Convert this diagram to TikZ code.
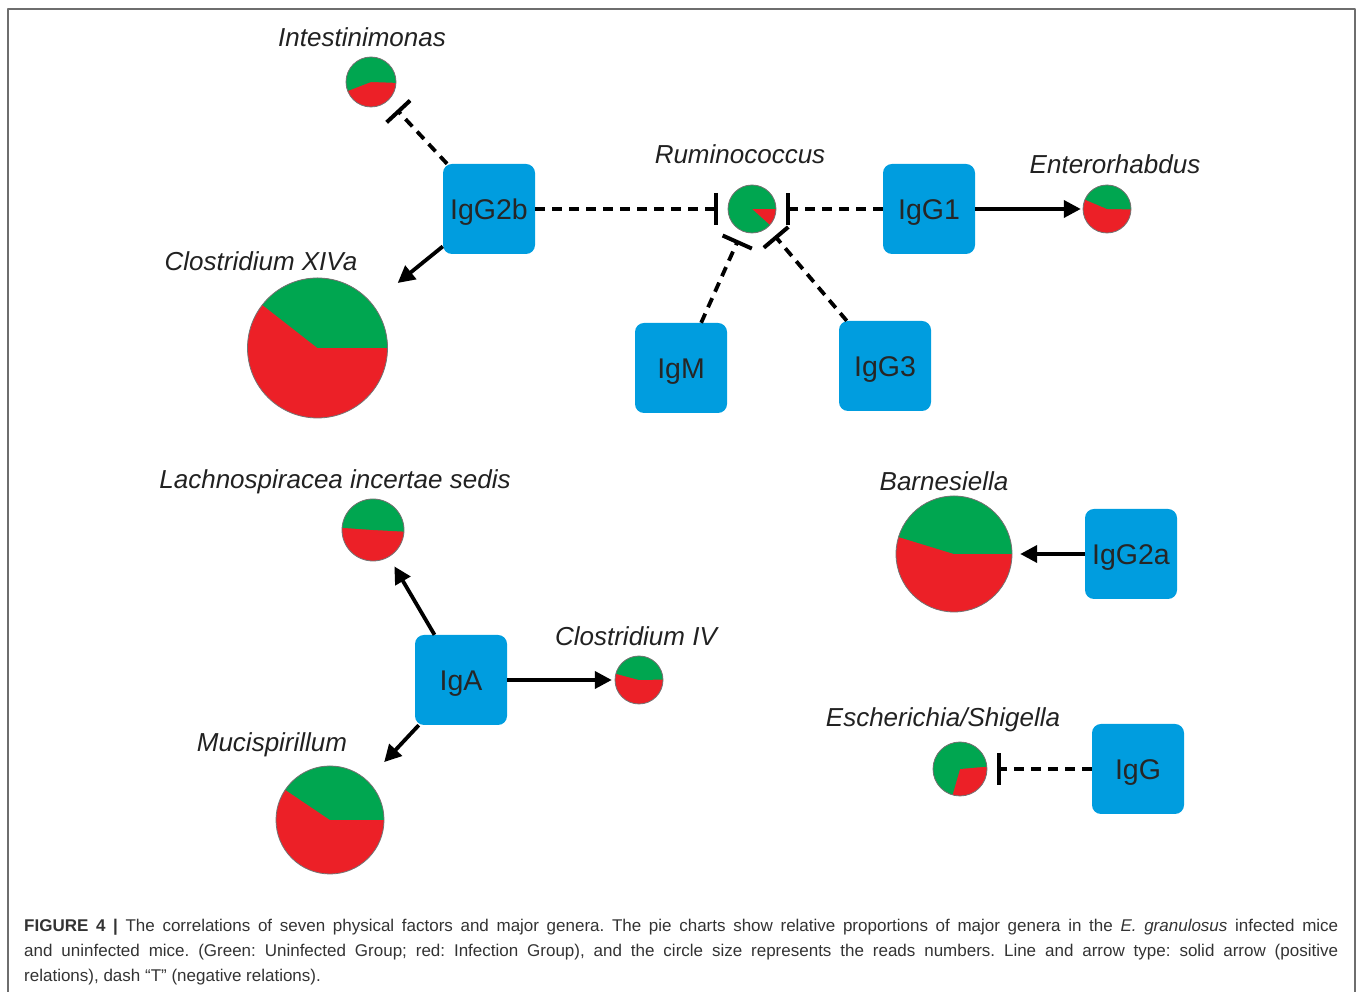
\documentclass[tikz,border=0pt]{standalone}
\usepackage{fontspec}
\setmainfont{Liberation Sans}
\usetikzlibrary{arrows.meta}

\definecolor{igblue}{RGB}{0,157,223}
\definecolor{piegreen}{RGB}{0,166,80}
\definecolor{piered}{RGB}{236,32,39}
\definecolor{framegray}{RGB}{110,110,110}
\definecolor{captext}{RGB}{51,51,51}

\begin{document}
\begin{tikzpicture}[line join=round,x=1pt,y=1pt,
		igbox/.style={fill=igblue,rounded corners=9pt,minimum width=92pt,minimum height=90pt,inner sep=0pt,text height=20.5pt,text depth=0pt,text=black!85,font=\fontsize{28.5}{30}\selectfont},
		genus/.style={text=black!87,font=\fontsize{26}{28}\selectfont\itshape},
		posarr/.style={line width=3.8pt,-{Triangle[length=17pt,width=17pt]}},
		negarr/.style={line width=3.8pt,dash pattern=on 10pt off 7pt,-{Bar[width=32pt,line width=4pt]}}]
	\tikzset{pics/pie/.style n args={3}{code={
				\fill[piered](0,0)circle(#1);
				\fill[piegreen](0,0)--(#2:#1)arc(#2:#3:#1)--cycle;
				\draw[black!55,line width=0.8pt](0,0)circle(#1);
		}}}
	\useasboundingbox(0,0)rectangle(1358,992);
	\draw[framegray,line width=1.5pt](8,-2)--(8,983)--(1355,983)--(1355,-2);
	% antibodies
	\node[igbox](IgGtwob) at (489,783){IgG2b};
	\node[igbox](IgGone) at (929,783){IgG1};
	\node[igbox](IgM) at (681,624){IgM};
	\node[igbox](IgGthree) at (885,626){IgG3};
	\node[igbox](IgGtwoa) at (1131,438){IgG2a};
	\node[igbox](IgA) at (461,312){IgA};
	\node[igbox](IgG) at (1138,223){IgG};
	% genera: name/x/y/radius/green from/green to
	\foreach \n/\x/\y/\r/\a/\b in {intes/371/910/25/-2/201,rumi/752/783/24/0/318,entero/1107/783/24/-1/157,
		xiva/317.5/644/70/0/142,lachno/373/462/31/-3/176,barne/954/438/58/0/163,
		cfour/639/312/24/1/165,muci/330/172/54/0/146,esch/960/223/27/5/254}{
		\node[circle,inner sep=0pt,minimum size=2*\r*1pt](\n) at (\x,\y){};
		\pic at (\n){pie={\r}{\a}{\b}};
	}
	\node[genus](intesl) at (362,955){Intestinimonas};
	\node[genus](rumil) at (740,838){Ruminococcus};
	\node[genus](enterol) at (1115,828){Enterorhabdus};
	\node[genus](xival) at (261,731){Clostridium XIVa};
	\node[genus](lachnol) at (335,510){Lachnospiracea incertae sedis};
	\node[genus](barnel) at (944,511){Barnesiella};
	\node[genus](cfourl) at (636,356){Clostridium IV};
	\node[genus](mucil) at (272,247){Mucispirillum};
	\node[genus](eschl) at (943,272){Escherichia/Shigella};
	% negative relations
	\draw[negarr,shorten >=13pt](IgGtwob)--(intes);
	\draw[negarr,shorten >=10pt](IgGtwob)--(rumi);
	\draw[negarr,shorten >=10pt](IgGone)--(rumi);
	\draw[negarr,shorten >=10pt](IgM)--(rumi);
	\draw[negarr,shorten >=11pt](IgGthree)--(rumi);
	\draw[negarr,shorten >=10pt](IgG)--(esch);
	% positive relations
	\draw[posarr,shorten >=2pt](IgGone)--(entero);
	\draw[posarr,shorten >=33pt](IgGtwob)--(xiva);
	\draw[posarr,shorten >=11pt](IgA)--(lachno);
	\draw[posarr,shorten >=3pt](IgA)--(cfour);
	\draw[posarr,shorten >=25pt](IgA)--(muci);
	\draw[posarr,shorten >=8pt](IgGtwoa)--(barne);
	% caption
	\node[anchor=north west,inner sep=0pt,text width=1314pt,align=justify,text=captext,font=\fontsize{17}{25}\selectfont\frenchspacing](caption) at (24,73){\textbf{FIGURE 4 |} The correlations of seven physical factors and major genera. The pie charts show relative proportions of major genera in the \textit{E. granulosus} infected mice\linebreak and uninfected mice. (Green: Uninfected Group; red: Infection Group), and the circle size represents the reads numbers. Line and arrow type: solid arrow (positive\linebreak relations), dash “T” (negative relations).};
\end{tikzpicture}
\end{document}
